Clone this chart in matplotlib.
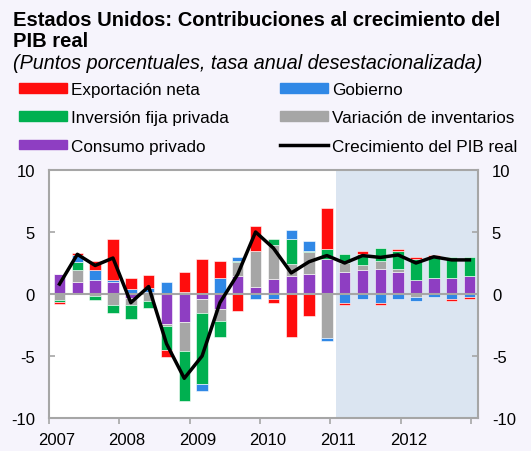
import numpy as np
import matplotlib
matplotlib.use('Agg')
import matplotlib.pyplot as plt
from matplotlib.patches import Patch
from matplotlib.lines import Line2D

plt.rcParams['font.family'] = ['Liberation Sans', 'DejaVu Sans']

# quarterly data 2007Q1 - 2012Q4 (percentage points, saar)
years = ['2007', '2008', '2009', '2010', '2011', '2012']
consumo = [1.6, 1.0, 1.1, 1.0, -0.35, 0.15, -2.45, -2.25, -0.4, -1.2, 1.45, 0.6,
           1.25, 1.45, 1.6, 2.85, 1.75, 1.9, 2.05, 1.75, 1.1, 1.3, 1.3, 1.45]
inventarios = [-0.5, 0.9, -0.15, -0.9, -0.55, -0.55, -0.15, -2.35, -1.15, -0.95, 1.1, 2.85,
               2.7, 0.95, 1.75, -3.55, 0.75, 0.45, 0.65, 0.3, -0.25, 0.0, 0.0, 0.0]
inversion = [-0.15, 0.65, -0.35, -0.6, -1.15, -0.6, -1.9, -4.0, -5.7, -1.35, 0.15, 0.0,
             0.45, 2.0, 0.15, 0.8, 0.75, 0.9, 1.05, 1.4, 1.75, 1.7, 1.7, 1.55]
gobierno = [0.0, 0.6, 0.8, 0.15, 0.4, 0.3, 1.0, 0.2, -0.6, 1.3, 0.3, -0.4,
            -0.4, 0.75, 0.75, -0.25, -0.75, -0.4, -0.75, -0.4, -0.35, -0.25, -0.4, -0.25]
exportacion = [-0.15, 0.15, 0.8, 3.3, 0.9, 1.1, -0.55, 1.6, 2.85, 1.4, -1.35, 2.0,
               -0.3, -3.5, -1.8, 3.25, -0.15, 0.2, -0.15, 0.15, 0.15, 0.15, -0.2, -0.15]
pib = [0.8, 3.2, 2.3, 2.9, -0.7, 0.6, -4.0, -6.8, -5.0, -0.7, 1.6, 5.0,
       3.7, 1.7, 2.6, 3.1, 2.5, 3.1, 2.95, 3.15, 2.5, 3.0, 2.75, 2.75]

# stacking order from zero outwards
series = [
    ('Consumo privado', consumo, '#8E3EC2'),
    ('Variación de inventarios', inventarios, '#A6A6A6'),
    ('Inversión fija privada', inversion, '#00B050'),
    ('Gobierno', gobierno, '#3088E6'),
    ('Exportación neta', exportacion, '#FF0D0D'),
]

fig = plt.figure(figsize=(5.31, 4.52), dpi=100, facecolor='#F6F4FC')
ax = fig.add_axes([49/531, 33/452, 429/531, 248/452])
ax.set_facecolor('white')

x = np.arange(len(pib))
pos_base = np.zeros(len(pib))
neg_base = np.zeros(len(pib))
for name, vals, col in series:
    v = np.array(vals)
    base = np.where(v >= 0, pos_base, neg_base)
    ax.bar(x, v, width=0.64, bottom=base, color=col, edgecolor='white', linewidth=0.4, zorder=3)
    pos_base = pos_base + np.clip(v, 0, None)
    neg_base = neg_base + np.clip(v, None, 0)

ax.plot(x, pib, color='black', lw=2.5, zorder=5)

# forecast shading
ax.axvspan(15.5, 24, color='#DBE5F1', zorder=0, lw=0)
ax.axhline(0, color='#A6A6A6', lw=1.5, zorder=4)

ax.set_xlim(-0.59, 23.48)
ax.set_ylim(-10, 10)
ax.set_yticks([-10, -5, 0, 5, 10])
ax.set_yticklabels(['-10', '-5', '0', '5', '10'])
ax.tick_params(axis='y', direction='in', length=4, width=1.2, color='#A6A6A6',
               labelsize=12, pad=10, left=True, right=True, labelleft=True, labelright=True)

tick_pos = [-0.59 + 3.945*k for k in range(7)]
ax.set_xticks(tick_pos)
ax.set_xticklabels([''] * 7)
ax.set_xticks([p + 0.44 for p in tick_pos[:-1]], minor=True)
ax.set_xticklabels(years, minor=True)
ax.tick_params(axis='x', which='major', direction='out', length=4, width=1.2, color='#A6A6A6')
ax.tick_params(axis='x', which='minor', length=0, labelsize=12, pad=10)

for s in ax.spines.values():
    s.set_color('#A6A6A6')
    s.set_linewidth(1.5)

fig.text(13/531, 1 - 26/452, 'Estados Unidos: Contribuciones al crecimiento del',
         fontsize=14.5, fontweight='bold', ha='left', va='baseline')
fig.text(13/531, 1 - 47/452, 'PIB real', fontsize=14.5, fontweight='bold', ha='left', va='baseline')
fig.text(13/531, 1 - 69/452, '(Puntos porcentuales, tasa anual desestacionalizada)',
         fontsize=14.2, fontstyle='italic', ha='left', va='baseline')

handles = [
    Patch(color='#FF0D0D', label='Exportación neta'),
    Patch(color='#00B050', label='Inversión fija privada'),
    Patch(color='#8E3EC2', label='Consumo privado'),
    Patch(color='#3088E6', label='Gobierno'),
    Patch(color='#A6A6A6', label='Variación de inventarios'),
    Line2D([], [], color='black', lw=2.5, label='Crecimiento del PIB real'),
]
fig.legend(handles=handles, ncol=2, loc='upper left', bbox_to_anchor=(7/531, 1 - 71/452),
           frameon=False, fontsize=12.3, handlelength=2.8, handleheight=0.5,
           handletextpad=0.25, columnspacing=3.0, labelspacing=0.78, borderpad=0.2)

fig.savefig('out.png', dpi=100, facecolor=fig.get_facecolor())
